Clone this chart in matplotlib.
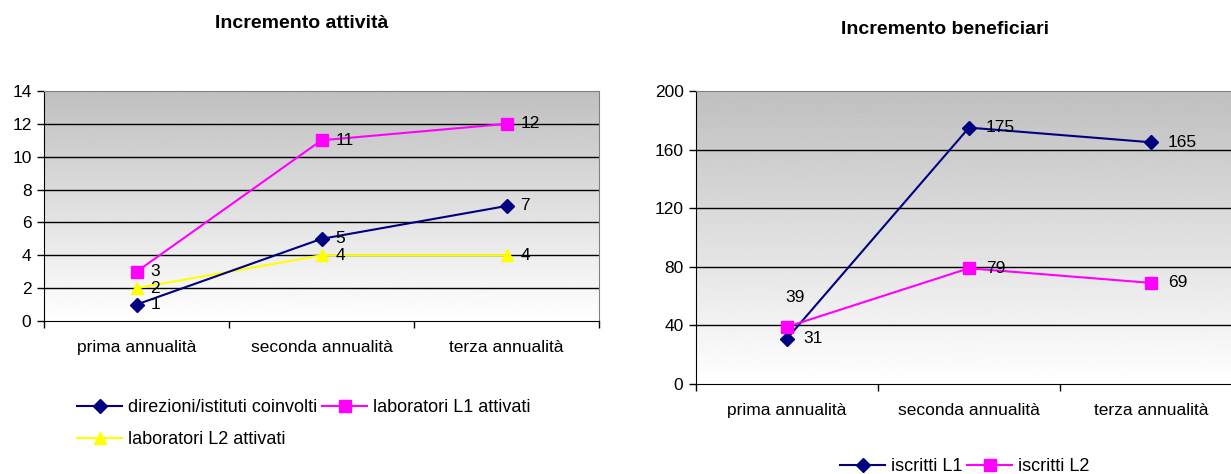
import numpy as np
import matplotlib
matplotlib.use("Agg")
import matplotlib.pyplot as plt

plt.rcParams['font.family'] = ['Liberation Sans', 'DejaVu Sans']

categorie = ["prima annualità", "seconda annualità", "terza annualità"]

# grafico sinistro: incremento attività
direzioni = [1, 5, 7]
lab_l1 = [3, 11, 12]
lab_l2 = [2, 4, 4]

# grafico destro: incremento beneficiari
iscritti_l1 = [31, 175, 165]
iscritti_l2 = [39, 79, 69]

W, H = 1231, 474
NAVY, MAGENTA, YELLOW = "#000080", "#ff00ff", "#ffff00"
FS = 12.5

fig = plt.figure(figsize=(W / 100, H / 100), dpi=100)


def px_axes(x0, x1, ytop, ybot):
    return fig.add_axes([x0 / W, (H - ybot) / H, (x1 - x0) / W, (ybot - ytop) / H])


def stile_assi(ax, ymax, ystep):
    x = np.arange(len(categorie))
    ax.set_xlim(-0.5, len(categorie) - 0.5)
    ax.set_ylim(0, ymax)
    # sfondo sfumato grigio -> bianco
    grad = np.linspace(0.75, 1.0, 256).reshape(-1, 1)
    ax.imshow(grad, extent=(0, 1, 0, 1), transform=ax.transAxes, cmap="gray",
              vmin=0, vmax=1, aspect="auto", zorder=0, origin="upper")
    ax.set_yticks(np.arange(0, ymax + 1, ystep))
    ax.set_xticks(x)
    ax.set_xticklabels(categorie)
    ax.set_xticks(np.arange(-0.5, len(categorie)), minor=True)
    ax.tick_params(axis="x", which="major", length=0, pad=14, labelsize=FS)
    ax.tick_params(axis="x", which="minor", length=5, direction="out", width=1)
    ax.tick_params(axis="y", length=5, direction="out", width=1, labelsize=FS, pad=4)
    for v in np.arange(ystep, ymax, ystep):
        ax.axhline(v, color="black", lw=1, zorder=1)
    ax.spines["left"].set_color("black")
    ax.spines["bottom"].set_color("black")
    ax.spines["top"].set_color("#808080")
    ax.spines["right"].set_color("#808080")


def etichette(ax, valori, dx=10, offsets=None):
    for i, v in enumerate(valori):
        ox, oy = (dx, 0)
        if offsets and i in offsets:
            ox, oy = offsets[i]
        ax.annotate(str(v), (i, v), xytext=(ox, oy), textcoords="offset points",
                    ha="left", va="center", fontsize=FS, zorder=5)


# --- Incremento attività
ax1 = px_axes(44, 599, 91, 321)
stile_assi(ax1, 14, 2)
x = np.arange(len(categorie))
h1, = ax1.plot(x, direzioni, color=NAVY, marker="D", ms=7, lw=1.5, zorder=3,
               label="direzioni/istituti coinvolti")
h2, = ax1.plot(x, lab_l1, color=MAGENTA, marker="s", ms=8, lw=1.5, zorder=3,
               label="laboratori L1 attivati")
h3, = ax1.plot(x, lab_l2, color=YELLOW, marker="^", ms=9, lw=1.5, zorder=2,
               label="laboratori L2 attivati")
etichette(ax1, direzioni)
etichette(ax1, lab_l1)
etichette(ax1, lab_l2)
fig.text(302 / W, 1 - 23 / H, "Incremento attività", ha="center", va="center",
         fontsize=14, fontweight="bold")
fig.legend([h1, h3, h2], [h1.get_label(), h3.get_label(), h2.get_label()],
           loc="upper left", bbox_to_anchor=(77 / W, 1 - 399 / H), ncol=2,
           frameon=False, fontsize=13, borderpad=0, borderaxespad=0,
           handlelength=2.5, handletextpad=0.3, columnspacing=0.3,
           labelspacing=0.85)

# --- Incremento beneficiari
ax2 = px_axes(696, 1242, 91, 384)
stile_assi(ax2, 200, 40)
g1, = ax2.plot(x, iscritti_l1, color=NAVY, marker="D", ms=7, lw=1.5, zorder=3,
               label="iscritti L1")
g2, = ax2.plot(x, iscritti_l2, color=MAGENTA, marker="s", ms=8, lw=1.5, zorder=3,
               label="iscritti L2")
etichette(ax2, iscritti_l1, dx=12)
etichette(ax2, iscritti_l2, dx=12, offsets={0: (-1, 21)})
fig.text(945 / W, 1 - 30 / H, "Incremento beneficiari", ha="center", va="center",
         fontsize=14, fontweight="bold")
fig.legend([g1, g2], [g1.get_label(), g2.get_label()], loc="upper left",
           bbox_to_anchor=(840 / W, 1 - 458 / H), ncol=2, frameon=False,
           fontsize=13, borderpad=0, borderaxespad=0, handlelength=2.5,
           handletextpad=0.3, columnspacing=0.3)

fig.savefig("out.png", dpi=100)
